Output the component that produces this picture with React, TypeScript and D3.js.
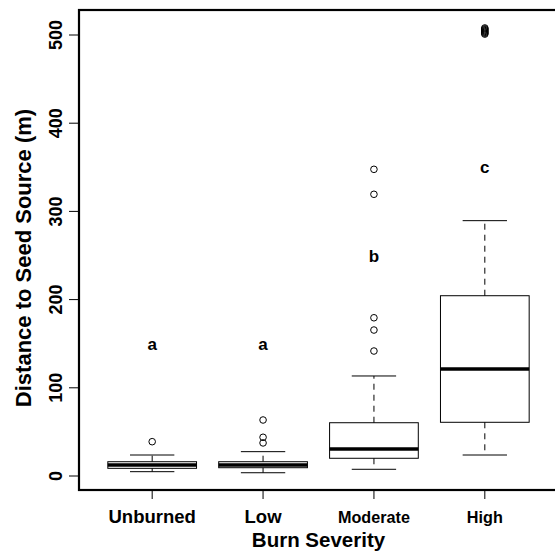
import React from "react";
import * as d3 from "d3";

const categories = ["Unburned", "Low", "Moderate", "High"];
const q1 = [8.7, 9.4, 20.1, 60.9];
const medians = [12.5, 12.5, 30.6, 121.3];
const q3 = [16.2, 16.2, 60.4, 204.4];
const whiskerLow = [4.9, 3.7, 7.6, 23.8];
const whiskerHigh = [23.8, 27.6, 113.4, 289.5];
const outliers = [
  [38.9],
  [63.5, 43.9, 37.5],
  [141.7, 165.5, 179.4, 319.4, 347.7],
  [501, 502, 503, 504, 505, 506, 507, 508],
];
const letters = ["a", "a", "b", "c"];
const letterValues = [150, 150, 250, 350];
const yTicks = [0, 100, 200, 300, 400, 500];

// styling (not data)
const tickFontSizes = [18.5, 18.5, 16.2, 16.2];

const W = 555;
const H = 552;
const plotLeft = 79;
const plotRight = 558;
const plotTop = 10;
const plotBottom = 490;
const FONT = "'Liberation Sans', Arial, Helvetica, sans-serif";

export default function App() {
  const x = d3.scaleLinear().domain([0.34, 4.66]).range([plotLeft, plotRight]);
  const y = d3.scaleLinear().domain([0, 500]).range([476, 35]);
  const boxHalf = x(1.4) - x(1);
  const capHalf = boxHalf / 2;

  return (
    <svg
      width={W}
      height={H}
      style={{ position: "absolute", left: 0, top: 0, background: "#fff" }}
    >
      <rect x={0} y={0} width={W} height={H} fill="#fff" />
      {categories.map((c, i) => {
        const cx = x(i + 1);
        return (
          <g key={c}>
            <line x1={cx} x2={cx} y1={y(q3[i])} y2={y(whiskerHigh[i])} stroke="#000" strokeWidth={1} strokeDasharray="6,5" />
            <line x1={cx} x2={cx} y1={y(q1[i])} y2={y(whiskerLow[i])} stroke="#000" strokeWidth={1} strokeDasharray="6,5" />
            <line x1={cx - capHalf} x2={cx + capHalf} y1={y(whiskerHigh[i])} y2={y(whiskerHigh[i])} stroke="#000" strokeWidth={1} />
            <line x1={cx - capHalf} x2={cx + capHalf} y1={y(whiskerLow[i])} y2={y(whiskerLow[i])} stroke="#000" strokeWidth={1} />
            <rect
              x={cx - boxHalf}
              y={y(q3[i])}
              width={boxHalf * 2}
              height={y(q1[i]) - y(q3[i])}
              fill="none"
              stroke="#000"
              strokeWidth={1}
            />
            <line x1={cx - boxHalf} x2={cx + boxHalf} y1={y(medians[i])} y2={y(medians[i])} stroke="#000" strokeWidth={3.5} />
            {outliers[i].map((v, j) => (
              <circle key={j} cx={cx} cy={y(v)} r={3.3} fill="none" stroke="#000" strokeWidth={1} />
            ))}
            <text
              x={cx}
              y={y(letterValues[i])}
              dy="0.36em"
              textAnchor="middle"
              fontFamily={FONT}
              fontWeight="bold"
              fontSize={17}
            >
              {letters[i]}
            </text>
            <line x1={cx} x2={cx} y1={plotBottom} y2={plotBottom + 9} stroke="#000" strokeWidth={1} />
            <text
              x={cx}
              y={522.7}
              textAnchor="middle"
              fontFamily={FONT}
              fontWeight="bold"
              fontSize={tickFontSizes[i]}
            >
              {c}
            </text>
          </g>
        );
      })}
      {yTicks.map((t) => (
        <g key={t}>
          <line x1={plotLeft - 10} x2={plotLeft} y1={y(t)} y2={y(t)} stroke="#000" strokeWidth={1} />
          <text
            transform={`translate(61.5,${y(t)}) rotate(-90)`}
            textAnchor="middle"
            fontFamily={FONT}
            fontWeight="bold"
            fontSize={18}
          >
            {t}
          </text>
        </g>
      ))}
      <rect
        x={plotLeft}
        y={plotTop}
        width={plotRight - plotLeft}
        height={plotBottom - plotTop}
        fill="none"
        stroke="#000"
        strokeWidth={2.2}
      />
      <text
        x={(plotLeft + plotRight) / 2}
        y={546.5}
        textAnchor="middle"
        fontFamily={FONT}
        fontWeight="bold"
        fontSize={20.5}
      >
        Burn Severity
      </text>
      <text
        transform={`translate(31,258) rotate(-90)`}
        textAnchor="middle"
        fontFamily={FONT}
        fontWeight="bold"
        fontSize={22}
      >
        Distance to Seed Source (m)
      </text>
    </svg>
  );
}
